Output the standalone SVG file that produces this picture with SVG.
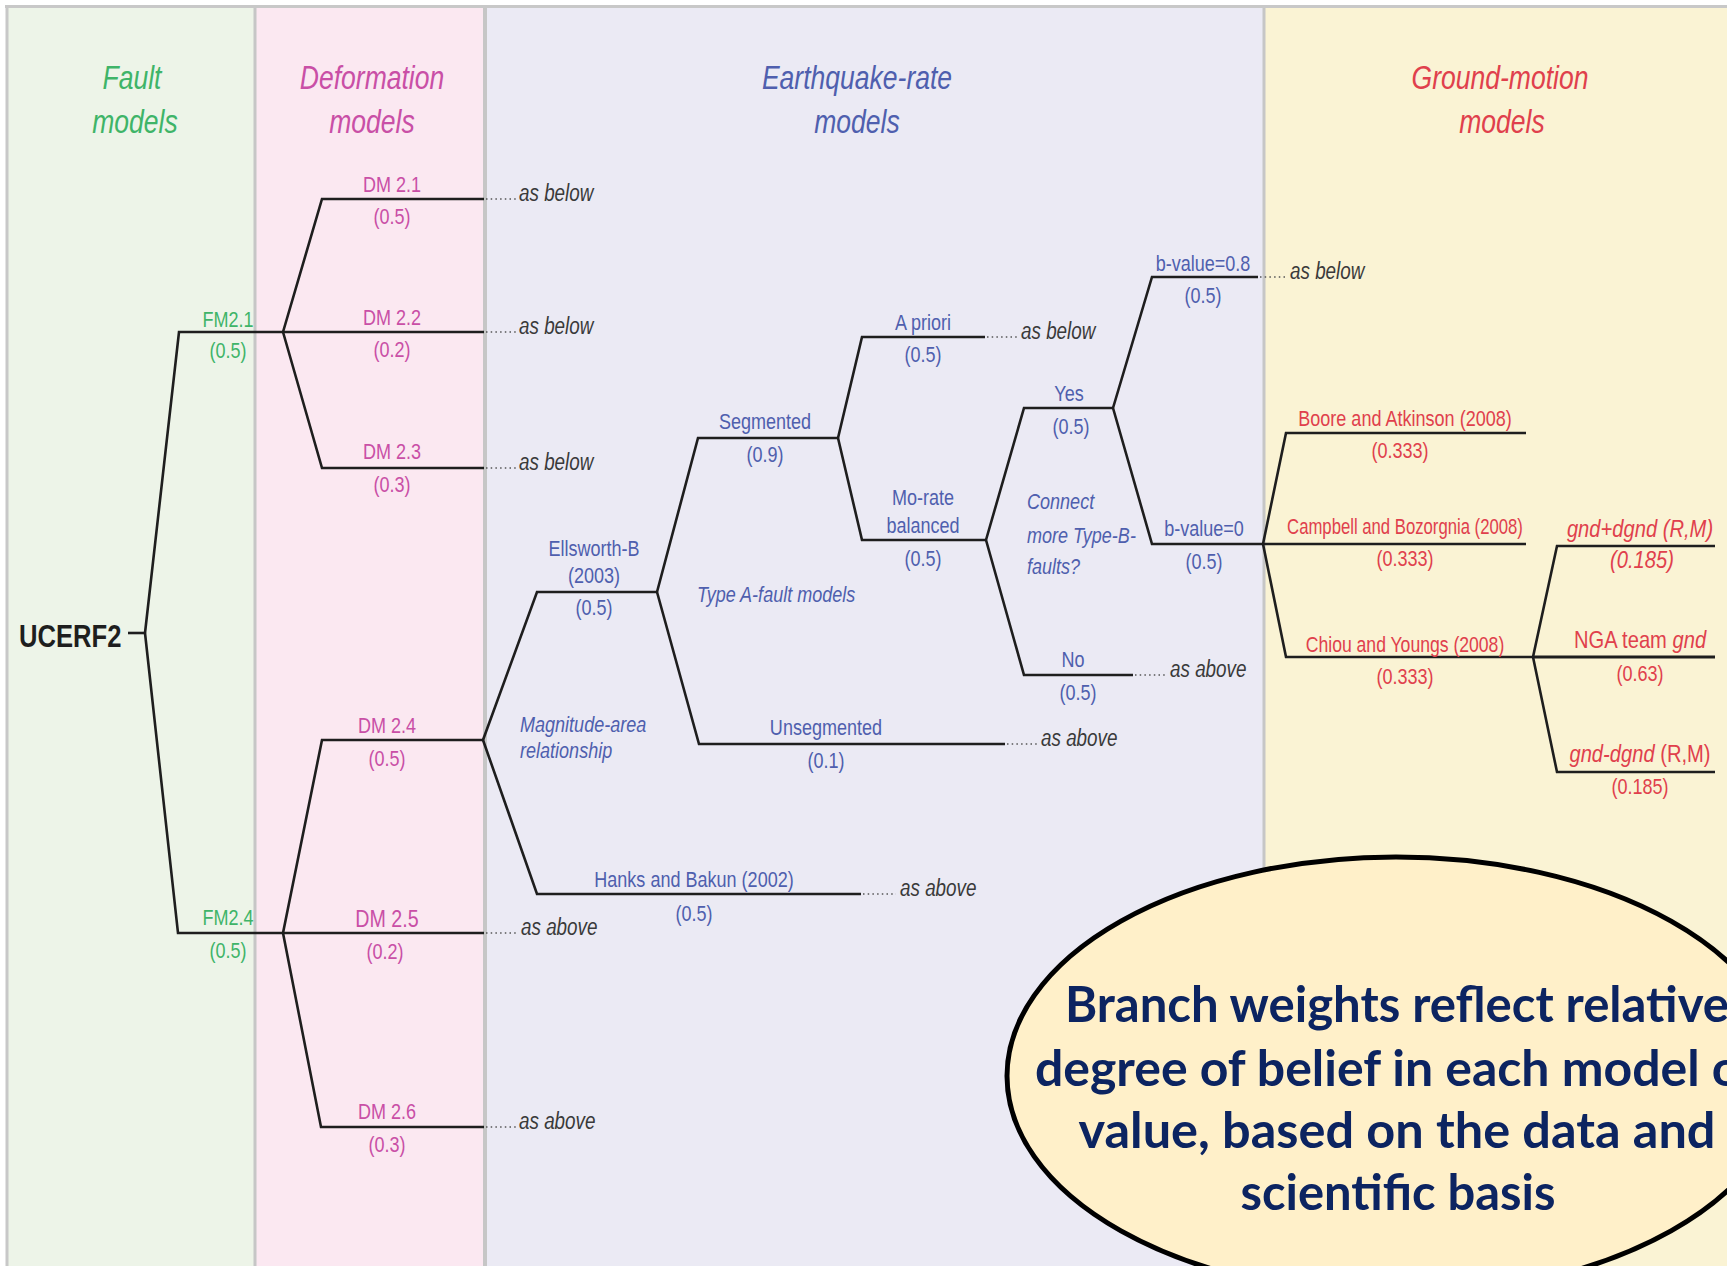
<svg xmlns="http://www.w3.org/2000/svg" width="1727" height="1266" viewBox="0 0 1727 1266">
<style>
text{font-family:"Liberation Sans",Arial,sans-serif}
.t{font-size:22px;text-anchor:middle}
.t24{font-size:24px}
.hd{font-size:34px;font-style:italic;text-anchor:middle}
.it{font-style:italic}
.s{text-anchor:start}
.g{fill:#3fb468}.m{fill:#c94fa6}.b{fill:#4f5fae}.r{fill:#e0404c}
.note{font-size:23px;font-style:italic;fill:#3a3a3a}
.ln{fill:none;stroke:#1e1e1e;stroke-width:2.6;stroke-linejoin:miter}
.dot{fill:none;stroke:#555;stroke-width:1.6;stroke-dasharray:1.5 3.2}
.big{font-family:Lato,"Open Sans","Liberation Sans",sans-serif;font-weight:bold;font-size:50px;fill:#0c2461;text-anchor:middle}
</style>
<rect x="0" y="0" width="1727" height="1266" fill="#ffffff"/>
<g id="panels">
<rect x="8" y="8" width="247" height="1258" fill="#edf4e8"/>
<rect x="255" y="8" width="230" height="1258" fill="#fbe8f1"/>
<rect x="485" y="8" width="779" height="1258" fill="#ebeaf4"/>
<rect x="1264" y="8" width="463" height="1258" fill="#faf3d4"/>
<line x1="5" y1="6.5" x2="1727" y2="6.5" stroke="#c8c8c8" stroke-width="3"/>
<line x1="7" y1="5" x2="7" y2="1266" stroke="#c8c8c8" stroke-width="3"/>
<line x1="255" y1="8" x2="255" y2="1266" stroke="#c6c6c6" stroke-width="3"/>
<line x1="485" y1="8" x2="485" y2="1266" stroke="#c6c6c6" stroke-width="4"/>
<line x1="1264" y1="8" x2="1264" y2="1266" stroke="#c6c6c6" stroke-width="3"/>
</g>
<g id="headers">
<text class="hd g" transform="translate(132 89) scale(.78 1)">Fault</text>
<text class="hd g" transform="translate(135 133) scale(.78 1)">models</text>
<text class="hd m" transform="translate(372 89) scale(.78 1)">Deformation</text>
<text class="hd m" transform="translate(372 133) scale(.78 1)">models</text>
<text class="hd b" transform="translate(857 89) scale(.78 1)">Earthquake-rate</text>
<text class="hd b" transform="translate(857 133) scale(.78 1)">models</text>
<text class="hd r" transform="translate(1500 89) scale(.78 1)">Ground-motion</text>
<text class="hd r" transform="translate(1502 133) scale(.78 1)">models</text>
</g>
<g id="connectors">
<polyline class="ln" points="128,633 145,633"/>
<polyline class="ln" points="145,633 179,332 283,332"/>
<polyline class="ln" points="145,633 178,933 283,933"/>
<polyline class="ln" points="283,332 322,199 484,199"/>
<polyline class="ln" points="283,332 484,332"/>
<polyline class="ln" points="283,332 322,468 484,468"/>
<polyline class="ln" points="283,933 322,740 483,740"/>
<polyline class="ln" points="283,933 484,933"/>
<polyline class="ln" points="283,933 321,1127 484,1127"/>
<polyline class="ln" points="483,740 537,592 657,592"/>
<polyline class="ln" points="483,740 537,894 861,894"/>
<polyline class="ln" points="657,592 698,438 838,438"/>
<polyline class="ln" points="657,592 699,744 1005,744"/>
<polyline class="ln" points="838,438 862,337 985,337"/>
<polyline class="ln" points="838,438 862,540 986,540"/>
<polyline class="ln" points="986,540 1024,408 1113,408"/>
<polyline class="ln" points="986,540 1024,675 1133,675"/>
<polyline class="ln" points="1113,408 1152,277 1258,277"/>
<polyline class="ln" points="1113,408 1152,544 1263,544"/>
<polyline class="ln" points="1263,544 1286,433 1526,433"/>
<polyline class="ln" points="1263,544 1526,544"/>
<polyline class="ln" points="1263,544 1286,657 1533,657"/>
<polyline class="ln" points="1533,657 1557,546 1715,546"/>
<polyline class="ln" points="1533,657 1715,657" style="stroke-width:3.2"/>
<polyline class="ln" points="1533,657 1557,772 1715,772"/>
<line class="dot" x1="486" y1="199" x2="516" y2="199"/>
<line class="dot" x1="486" y1="332" x2="516" y2="332"/>
<line class="dot" x1="486" y1="468" x2="516" y2="468"/>
<line class="dot" x1="486" y1="933" x2="516" y2="933"/>
<line class="dot" x1="486" y1="1127" x2="516" y2="1127"/>
<line class="dot" x1="863" y1="894" x2="896" y2="894"/>
<line class="dot" x1="1007" y1="744" x2="1037" y2="744"/>
<line class="dot" x1="987" y1="337" x2="1018" y2="337"/>
<line class="dot" x1="1135" y1="675" x2="1166" y2="675"/>
<line class="dot" x1="1260" y1="277" x2="1287" y2="277"/>
</g>
<g id="root"><text transform="translate(19 647) scale(.8 1)" style="font-weight:bold;font-size:32px;fill:#1e1e1e">UCERF2</text></g>
<g id="fm21"><text class="t g" transform="translate(228 327) scale(.82 1)">FM2.1</text><text class="t g" transform="translate(228 358) scale(.82 1)">(0.5)</text></g>
<g id="fm24"><text class="t g" transform="translate(228 925) scale(.82 1)">FM2.4</text><text class="t g" transform="translate(228 958) scale(.82 1)">(0.5)</text></g>
<g id="dm21"><text class="t m" transform="translate(392 192) scale(.82 1)">DM 2.1</text><text class="t m" transform="translate(392 224) scale(.82 1)">(0.5)</text></g>
<g id="dm22"><text class="t m" transform="translate(392 325) scale(.82 1)">DM 2.2</text><text class="t m" transform="translate(392 357) scale(.82 1)">(0.2)</text></g>
<g id="dm23"><text class="t m" transform="translate(392 459) scale(.82 1)">DM 2.3</text><text class="t m" transform="translate(392 492) scale(.82 1)">(0.3)</text></g>
<g id="dm24"><text class="t m" transform="translate(387 733) scale(.82 1)">DM 2.4</text><text class="t m" transform="translate(387 766) scale(.82 1)">(0.5)</text></g>
<g id="dm25"><text class="t m t24" transform="translate(387 927) scale(.82 1)">DM 2.5</text><text class="t m" transform="translate(385 959) scale(.82 1)">(0.2)</text></g>
<g id="dm26"><text class="t m" transform="translate(387 1119) scale(.82 1)">DM 2.6</text><text class="t m" transform="translate(387 1152) scale(.82 1)">(0.3)</text></g>
<g id="ellsworth"><text class="t b" transform="translate(594 556) scale(.82 1)">Ellsworth-B</text><text class="t b" transform="translate(594 583) scale(.82 1)">(2003)</text><text class="t b" transform="translate(594 615) scale(.82 1)">(0.5)</text></g>
<g id="hanks"><text class="t b" transform="translate(694 887) scale(.82 1)">Hanks and Bakun (2002)</text><text class="t b" transform="translate(694 921) scale(.82 1)">(0.5)</text></g>
<g id="segmented"><text class="t b" transform="translate(765 429) scale(.82 1)">Segmented</text><text class="t b" transform="translate(765 462) scale(.82 1)">(0.9)</text></g>
<g id="unsegmented"><text class="t b" transform="translate(826 735) scale(.82 1)">Unsegmented</text><text class="t b" transform="translate(826 768) scale(.82 1)">(0.1)</text></g>
<g id="apriori"><text class="t b" transform="translate(923 330) scale(.82 1)">A priori</text><text class="t b" transform="translate(923 362) scale(.82 1)">(0.5)</text></g>
<g id="morate"><text class="t b" transform="translate(923 505) scale(.82 1)">Mo-rate</text><text class="t b" transform="translate(923 533) scale(.82 1)">balanced</text><text class="t b" transform="translate(923 566) scale(.82 1)">(0.5)</text></g>
<g id="yes"><text class="t b" transform="translate(1069 401) scale(.82 1)">Yes</text><text class="t b" transform="translate(1071 434) scale(.82 1)">(0.5)</text></g>
<g id="no"><text class="t b" transform="translate(1073 667) scale(.82 1)">No</text><text class="t b" transform="translate(1078 700) scale(.82 1)">(0.5)</text></g>
<g id="b08"><text class="t b" transform="translate(1203 271) scale(.82 1)">b-value=0.8</text><text class="t b" transform="translate(1203 303) scale(.82 1)">(0.5)</text></g>
<g id="b0"><text class="t b" transform="translate(1204 536) scale(.82 1)">b-value=0</text><text class="t b" transform="translate(1204 569) scale(.82 1)">(0.5)</text></g>
<g id="boore"><text class="t r" transform="translate(1405 426) scale(.82 1)">Boore and Atkinson (2008)</text><text class="t r" transform="translate(1400 458) scale(.82 1)">(0.333)</text></g>
<g id="campbell"><text class="t r" transform="translate(1405 534) scale(.76 1)">Campbell and Bozorgnia (2008)</text><text class="t r" transform="translate(1405 566) scale(.82 1)">(0.333)</text></g>
<g id="chiou"><text class="t r" transform="translate(1405 652) scale(.8 1)">Chiou and Youngs (2008)</text><text class="t r" transform="translate(1405 684) scale(.82 1)">(0.333)</text></g>
<g id="gndplus"><text class="t r it t24" transform="translate(1640 537) scale(.84 1)">gnd+dgnd (R,M)</text><text class="t r it t24" transform="translate(1642 568) scale(.84 1)">(0.185)</text></g>
<g id="nga"><text class="t r t24" transform="translate(1640 648) scale(.84 1)">NGA team <tspan class="it">gnd</tspan></text><text class="t r" transform="translate(1640 681) scale(.82 1)">(0.63)</text></g>
<g id="gndminus"><text class="t r t24" transform="translate(1640 762) scale(.84 1)"><tspan class="it">gnd-dgnd</tspan> (R,M)</text><text class="t r" transform="translate(1640 794) scale(.82 1)">(0.185)</text></g>
<g id="branch-labels">
<text class="t b it s" transform="translate(520 732) scale(.82 1)">Magnitude-area</text>
<text class="t b it s" transform="translate(520 758) scale(.82 1)">relationship</text>
<text class="t b it s" transform="translate(697 602) scale(.82 1)">Type A-fault models</text>
<text class="t b it s" transform="translate(1027 509) scale(.82 1)">Connect</text>
<text class="t b it s" transform="translate(1027 543) scale(.82 1)">more Type-B-</text>
<text class="t b it s" transform="translate(1027 574) scale(.82 1)">faults?</text>
</g>
<g id="notes">
<text class="note" transform="translate(519 201) scale(.82 1)">as below</text>
<text class="note" transform="translate(519 334) scale(.82 1)">as below</text>
<text class="note" transform="translate(519 470) scale(.82 1)">as below</text>
<text class="note" transform="translate(521 935) scale(.82 1)">as above</text>
<text class="note" transform="translate(519 1129) scale(.82 1)">as above</text>
<text class="note" transform="translate(900 896) scale(.82 1)">as above</text>
<text class="note" transform="translate(1041 746) scale(.82 1)">as above</text>
<text class="note" transform="translate(1021 339) scale(.82 1)">as below</text>
<text class="note" transform="translate(1170 677) scale(.82 1)">as above</text>
<text class="note" transform="translate(1290 279) scale(.82 1)">as below</text>
</g>
<g id="callout">
<ellipse cx="1396" cy="1076" rx="389" ry="219" fill="#fff0c9" stroke="#000" stroke-width="5"/>
<text class="big" x="1397" y="1022" textLength="664" lengthAdjust="spacingAndGlyphs">Branch weights reflect relative</text>
<text class="big" x="1397" y="1086" textLength="724" lengthAdjust="spacingAndGlyphs">degree of belief in each model or</text>
<text class="big" x="1397" y="1148" textLength="637" lengthAdjust="spacingAndGlyphs">value, based on the data and</text>
<text class="big" x="1398" y="1210" textLength="315" lengthAdjust="spacingAndGlyphs">scientific basis</text>
</g>
</svg>
